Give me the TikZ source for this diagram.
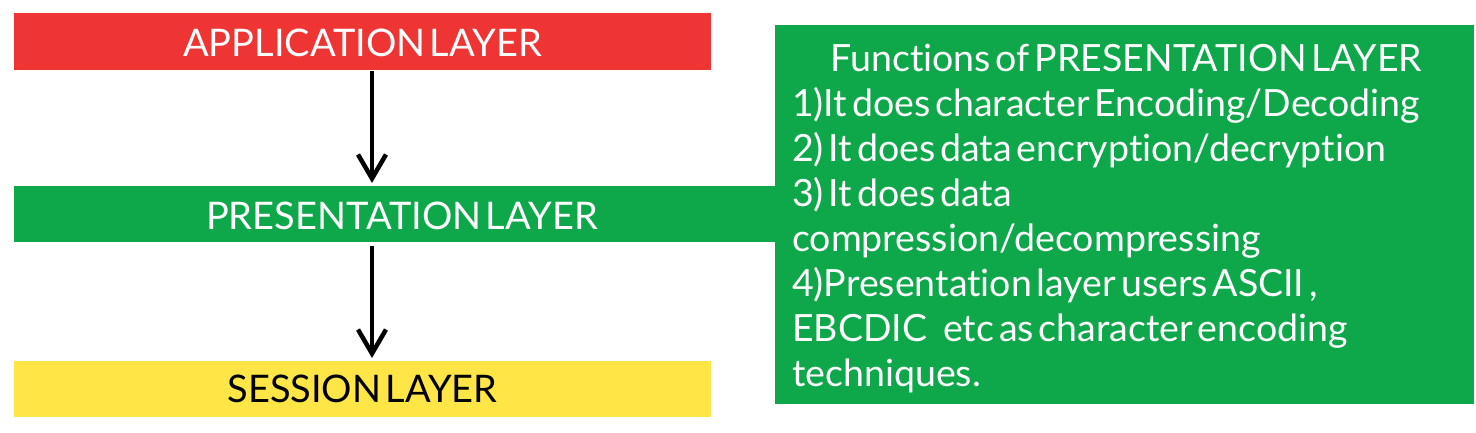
\documentclass[tikz,border=0pt]{standalone}
\usepackage{fontspec}
\setmainfont[Ligatures=NoCommon]{Lato}
\usetikzlibrary{arrows.meta}
\definecolor{appred}{RGB}{239,52,52}
\definecolor{presgreen}{RGB}{14,168,74}
\definecolor{sessyellow}{RGB}{255,230,70}
\newcommand{\tightspaces}{\spaceskip=0.13em\xspaceskip=0.13em\relax}
\begin{document}
\begin{tikzpicture}[x=1pt,y=1pt,
  layertext/.style={inner sep=0pt,anchor=base,font={\fontsize{38}{40}\selectfont\spaceskip=0.11em\relax}},
  functext/.style={inner sep=0pt,anchor=north west,text width=680pt,align=left,text=white,
    font={\fontsize{37.5}{45}\selectfont}},
  arr/.style={line width=4.5pt,-{Straight Barb[length=24pt,width=28pt,line width=4.5pt]}}]
\useasboundingbox (0,0) rectangle (1476,433);
% boxes
\fill[appred] (14,363) rectangle (711,420);
\node[layertext,text=white] (app) at (362.5,376) {APPLICATION LAYER};
\coordinate (appS) at (372,362);
\fill[presgreen] (14,191) rectangle (790,247);
\node[layertext,text=white] (pres) at (402,203) {PRESENTATION LAYER};
\coordinate (presN) at (372,250);
\coordinate (presS) at (372,187);
\fill[sessyellow] (14,16) rectangle (711,72);
\node[layertext,text=black] (sess) at (362.5,30) {SESSION LAYER};
\coordinate (sessN) at (372,75);
% big box
\fill[presgreen] (775,29) rectangle (1474,408);
\node[functext] (func) at (792,389) {\tightspaces
  \makebox[668pt][c]{Functions of PRESENTATION LAYER}\\
  1)It does character Encoding/Decoding\\
  2) It does data encryption/decryption\\
  3) It does data\\
  compression/decompressing\\
  4)Presentation layer users ASCII ,\\
  EBCDIC\hspace{16pt}etc as character encoding\\
  techniques.};
% arrows
\draw[arr] (appS) -- (presN);
\draw[arr] (presS) -- (sessN);
\end{tikzpicture}
\end{document}
